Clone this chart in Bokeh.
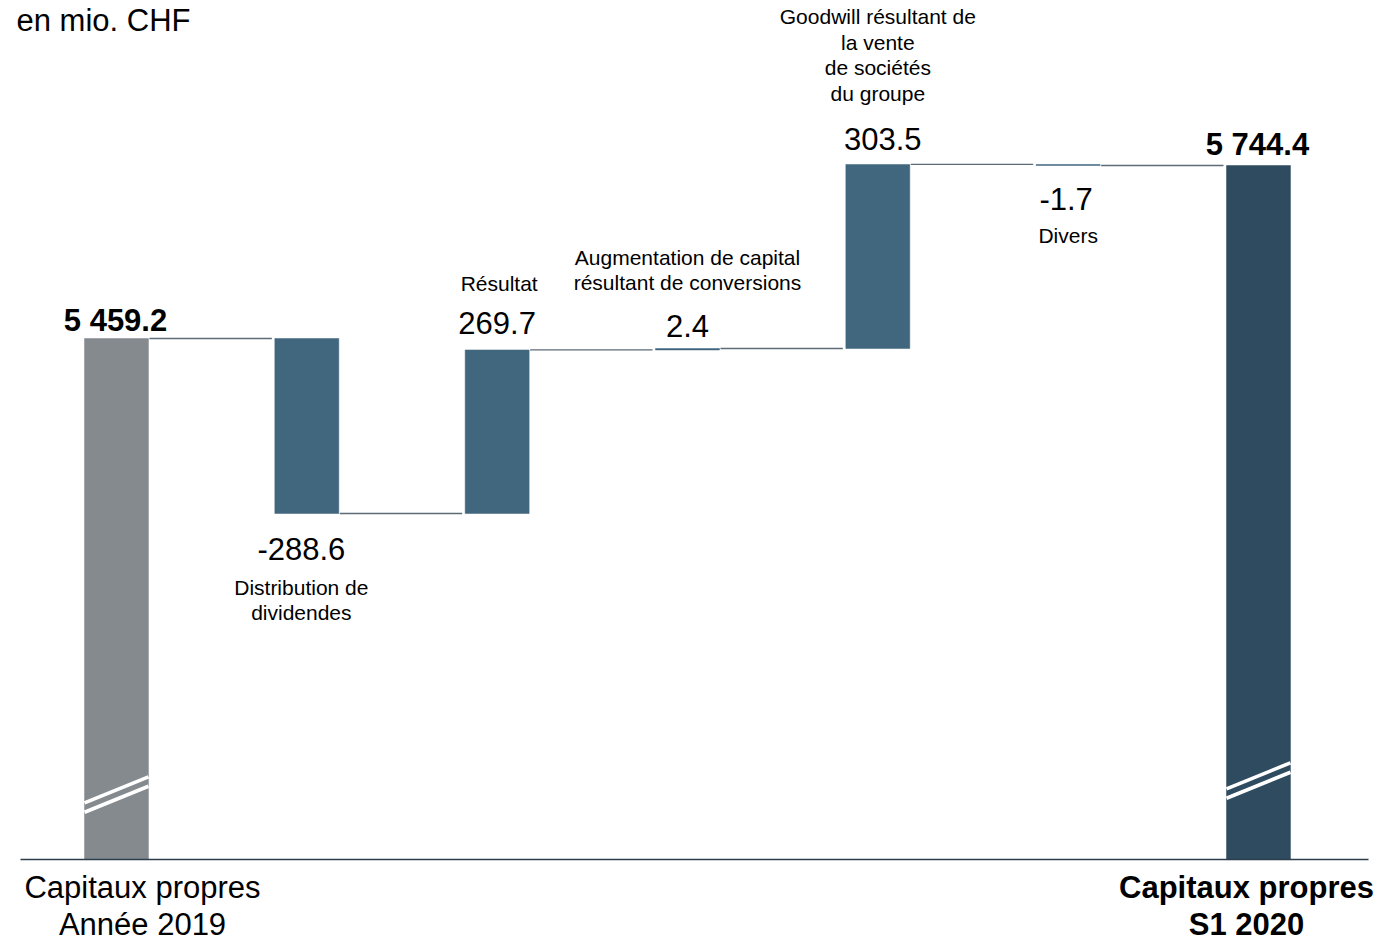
from bokeh.plotting import figure
from bokeh.models import ColumnDataSource, Range1d
from bokeh.embed import file_html
from bokeh.resources import INLINE
from bokeh.core.properties import value

# ---------------- data ----------------
categories = [
    "Capitaux propres\nAnnée 2019",
    "Distribution de\ndividendes",
    "Résultat",
    "Augmentation de capital\nrésultant de conversions",
    "Goodwill résultant de\nla vente\nde sociétés\ndu groupe",
    "Divers",
    "Capitaux propres\nS1 2020",
]
start_total = 5459.2
changes = [-288.6, 269.7, 2.4, 303.5, -1.7]
end_total = 5744.4
value_labels = ["5 459.2", "-288.6", "269.7", "2.4", "303.5", "-1.7", "5 744.4"]
unit_label = "en mio. CHF"
axis_base = 4600.0  # value at the (broken) baseline

# ---------------- layout / style ----------------
W, H = 1381, 942
PX_X = 190.33
PX_Y = 0.6064
X_START = -116 / PX_X
X_END = X_START + W / PX_X
Y_END = start_total + 338 / PX_Y
Y_START = Y_END - H / PX_Y
BAR_W = 0.336
FONT = "Liberation Sans"
colors = ["#858a8f"] + ["#41677f"] * 5 + ["#2f4b5f"]
is_total = [True, False, False, False, False, False, True]
BIG_SHIFT = -10.0
SMALL_SHIFT = -8.5

# value-label placement (pixels; + = down)
val_dy = [-8.5, 45.5, -17, -13, -15.5, 43.5, -11.5]
val_dx = [-1, -5.5, 0, 0, 5, -2, -1]
# description placement: first line offset, line step (pixels)
desc_dy = [38, 82, -57.6, -83, -139, 79, 38]
desc_dx = [26, -5.5, 2, 0, 0, 0, -12]
desc_step = [37, 25, 25, 25, 25.5, 25, 37]


def px_to_x(page_x):
    return X_START + page_x / PX_X


# ---------------- compute waterfall ----------------
n = len(categories)
xs = list(range(n))
bottoms = [axis_base]
tops = [start_total]
levels = [start_total]
level = start_total
for c in changes:
    new = level + c
    bottoms.append(min(level, new))
    tops.append(max(level, new))
    levels.append(new)
    level = new
bottoms.append(axis_base)
tops.append(end_total)
levels.append(end_total)

p = figure(width=W, height=H,
           x_range=Range1d(X_START, X_END), y_range=Range1d(Y_START, Y_END),
           output_backend="svg", toolbar_location=None,
           x_axis_location=None, y_axis_location=None,
           min_border=0, min_border_left=0, min_border_right=0,
           min_border_top=0, min_border_bottom=0)
p.grid.visible = False
p.outline_line_color = None
p.background_fill_color = "white"
p.border_fill_color = "white"

# bars
bar_src = ColumnDataSource(dict(x=xs, bottom=bottoms, top=tops, color=colors))
p.vbar(x="x", width=BAR_W, bottom="bottom", top="top", fill_color="color",
       line_color="color", line_width=0.5, source=bar_src)

# connectors
cx0, cx1, cy = [], [], []
for i in range(n - 1):
    cx0.append(i + BAR_W / 2 + 1 / PX_X)
    cx1.append(i + 1 - BAR_W / 2 - 3 / PX_X)
    cy.append(levels[i])
p.segment(x0=cx0, y0=cy, x1=cx1, y1=cy, line_color="#5c6b76", line_width=1.3)

# axis baseline
p.segment(x0=[px_to_x(20)], y0=[axis_base], x1=[px_to_x(1368)], y1=[axis_base],
          line_color="#2c3e4c", line_width=1.6)

# break marks on the total bars
break_bars = [0, n - 1]
break_px = [65, 79]
bx0, by0, bx1, by1 = [], [], [], []
for b, hpx in zip(break_bars, break_px):
    for d in (-4.7, 4.7):
        yc = axis_base + (hpx + d) / PX_Y
        rise = 26 / PX_Y
        bx0.append(b - BAR_W / 2)
        bx1.append(b + BAR_W / 2)
        by0.append(yc - rise / 2)
        by1.append(yc + rise / 2)
p.segment(x0=bx0, y0=by0, x1=bx1, y1=by1, line_color="white", line_width=3.6)

# value labels
for bold in (True, False):
    vx, vy, vt, vdx, vdy = [], [], [], [], []
    for i in range(n):
        if is_total[i] != bold:
            continue
        if is_total[i]:
            anchor = tops[i]
        else:
            anchor = bottoms[i] if changes[i - 1] < 0 else tops[i]
        vx.append(xs[i]); vy.append(anchor); vt.append(value_labels[i])
        vdx.append(val_dx[i]); vdy.append(val_dy[i] + BIG_SHIFT)
    src = ColumnDataSource(dict(x=vx, y=vy, t=vt, dx=vdx, dy=vdy))
    p.text(x="x", y="y", text="t", x_offset="dx", y_offset="dy", source=src,
           text_font=value(FONT), text_font_size="31px",
           text_font_style="bold" if bold else "normal",
           text_align="center", text_baseline="alphabetic", text_color="#000000")

# descriptions
small = dict(x=[], y=[], t=[], dx=[], dy=[])
big = {True: dict(x=[], y=[], t=[], dx=[], dy=[]), False: dict(x=[], y=[], t=[], dx=[], dy=[])}
for i in range(n):
    lines = categories[i].split("\n")
    if is_total[i]:
        anchor = axis_base
        tgt = big[i == n - 1]
        shift = BIG_SHIFT
    else:
        anchor = bottoms[i] if changes[i - 1] < 0 else tops[i]
        tgt = small
        shift = SMALL_SHIFT
    for k, ln in enumerate(lines):
        tgt["x"].append(xs[i]); tgt["y"].append(anchor); tgt["t"].append(ln)
        tgt["dx"].append(desc_dx[i]); tgt["dy"].append(desc_dy[i] + k * desc_step[i] + shift)

p.text(x="x", y="y", text="t", x_offset="dx", y_offset="dy",
       source=ColumnDataSource(small), text_font=value(FONT), text_font_size="21px",
       text_align="center", text_baseline="alphabetic", text_color="#000000")
for bold in (False, True):
    p.text(x="x", y="y", text="t", x_offset="dx", y_offset="dy",
           source=ColumnDataSource(big[bold]), text_font=value(FONT), text_font_size="31px",
           text_font_style="bold" if bold else "normal",
           text_align="center", text_baseline="alphabetic", text_color="#000000")

# unit label at the top-left (kept fully visible)
p.text(x=[px_to_x(16)], y=[Y_END], text=[unit_label], y_offset=[30 + BIG_SHIFT],
       text_font=value(FONT), text_font_size="31px", text_align="left",
       text_baseline="alphabetic", text_color="#000000")

open("out.html", "w").write(file_html(p, INLINE))
